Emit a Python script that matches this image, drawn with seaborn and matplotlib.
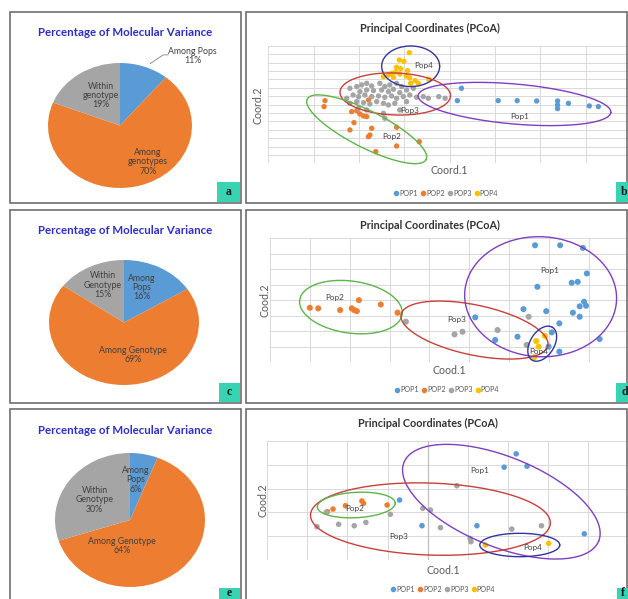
import numpy as np
import pandas as pd
import matplotlib
matplotlib.use("Agg")
import matplotlib.pyplot as plt
from matplotlib.patches import Rectangle
from matplotlib.lines import Line2D
import seaborn as sns

# ---------------- AMOVA (percentage of molecular variance) ----------------
amova_a = [11, 70, 19]
amova_c = [16, 69, 15]
amova_e = [6, 64, 30]
names_a = ["Among Pops", "Among\ngenotypes", "Within\ngenotype"]
names_c = ["Among\nPops", "Among Genotype", "Within\nGenotype"]
names_e = ["Among\nPops", "Among Genotype", "Within\nGenotype"]

# ---------------- PCoA coordinates, set b ----------------
b_pop1_x = [0.26, 0.17, 1.07, 1.49, 1.92, 2.38, 2.38, 2.38, 2.62, 3.08, 3.28]
b_pop1_y = [1.93, 0.46, 0.46, 0.46, 0.42, 0.42, -0.06, -0.49, 0.14, -0.17, -0.25]
b_pop2_x = [-2.75, -2.77, -2.16, -2.05, -1.98, -1.90, -1.83, -2.11, -2.20, -1.72,
            -1.76, -1.79, -1.17, -1.17, -1.63, -0.67, -1.79]
b_pop2_y = [0.46, -0.25, -0.85, -0.73, -1.13, -1.37, -1.44, -2.16, -3.03, -2.83,
            -3.63, -3.83, -2.71, -4.94, -5.61, -4.42, 0.54]
b_pop3_x = [-2.20, -2.05, -1.94, -1.83, -1.72, -1.54, -1.43, -1.32, -1.17, -1.06,
            -1.98, -1.83, -1.68, -1.50, -1.35, -1.24, -1.10, -0.95, -0.80, -2.13,
            -2.01, -1.87, -1.72, -1.57, -1.43, -1.28, -1.17, -1.02, -0.88, -0.73,
            -2.27, -2.20, -2.05, -1.90, -1.76, -1.61, -1.46, -1.35, -1.21, -0.95,
            -2.01, -1.83, -1.46, -1.10, -1.43, -0.47, -0.24, -0.10, -0.58]
b_pop3_y = [1.93, 2.13, 2.33, 2.52, 2.21, 2.52, 2.13, 2.33, 2.52, 2.13,
            1.53, 1.73, 1.65, 1.73, 1.53, 1.81, 1.41, 1.73, 1.93, 1.13,
            0.94, 1.13, 0.94, 1.02, 0.86, 1.02, 0.74, 0.94, 1.13, 0.86,
            0.74, 0.14, 0.34, 0.22, 0.06, 0.34, 0.14, -0.06, 0.14, 0.34,
            -0.45, -0.65, -1.05, -0.65, -1.64, 0.74, 0.94, 0.74, 0.94]
b_pop4_x = [-0.89, -1.11, -1.01, -1.17, -1.08, -1.28, -1.19, -1.35, -1.10, -0.93,
            -0.96, -0.88, -0.76, -0.69, -0.86, -0.46, -1.24, -1.46]
b_pop4_y = [6.17, 5.30, 5.14, 4.43, 4.27, 3.71, 3.87, 3.52, 3.63, 4.03,
            3.40, 3.16, 2.84, 2.52, 2.52, 3.00, 3.24, 3.32]

# ---------------- PCoA coordinates, set d ----------------
d_pop1_x = [2.65, 3.28, 3.85, 3.95, 3.57, 3.72, 2.71, 3.88, 3.93, 3.77, 3.60,
            3.77, 2.93, 2.36, 3.26, 2.21, 1.65, 4.27, 3.26, 3.07, 2.99, 1.15]
d_pop1_y = [3.55, 3.55, 3.38, 1.73, 1.13, 1.19, 0.87, -0.09, -0.35, -0.39, -0.80,
            -1.06, -0.70, -0.57, -1.49, -2.35, -2.56, -2.50, -3.31, -2.07, -2.99, -1.10]
d_pop2_x = [-3.00, -2.79, -2.24, -1.95, -1.89, -1.82, -1.77, -1.22, -0.80]
d_pop2_y = [-0.48, -0.52, -0.63, -0.52, -0.63, -0.70, 0.01, -0.27, -0.80]
d_pop3_x = [-0.59, 0.63, 0.83, 1.71, 2.49, 2.44]
d_pop3_y = [-1.38, -2.20, -2.03, -1.92, -1.06, -2.88]
d_pop4_x = [2.68, 2.90, 2.63, 2.74]
d_pop4_y = [-2.63, -2.30, -3.68, -2.99]

# ---------------- PCoA coordinates, set f ----------------
f_pop1_x = [2.21, 1.91, 2.48, -0.70, -0.14, 1.23, 3.91]
f_pop1_y = [4.46, 3.90, 3.94, 2.52, 1.44, 1.44, 1.10]
f_pop2_x = [-2.50, -2.36, -2.05, -1.64, -1.60, -1.01]
f_pop2_y = [2.03, 2.14, 2.28, 2.48, 2.38, 2.31]
f_pop3_x = [-2.76, -2.53, -2.22, -1.83, -1.54, -0.93, -0.12, 0.07, 0.32, 0.73,
            1.06, 1.08, 2.10, 2.84]
f_pop3_y = [1.40, 2.00, 1.50, 1.44, 1.58, 1.92, 2.17, 2.10, 1.36, 3.12,
            0.91, 0.77, 1.30, 1.44]
f_pop4_x = [1.44, 3.02]
f_pop4_y = [0.63, 0.70]

pop_names = ["POP1", "POP2", "POP3", "POP4"]
pop_colors = ["#5B9BD5", "#ED7D31", "#A5A5A5", "#FFC000"]
slice_colors = ["#5B9BD5", "#ED7D31", "#A5A5A5"]

sns.set_theme(style="white")
plt.rcParams["font.family"] = ["Lato", "DejaVu Sans"]

W, H = 628, 599
fig = plt.figure(figsize=(W / 100, H / 100), dpi=100)
fig.patch.set_facecolor("white")


def fx(x):
    return x / W


def fy(y):
    return 1 - y / H


def px_axes(x0, y0, x1, y1):
    return fig.add_axes([fx(x0), fy(y1), (x1 - x0) / W, (y1 - y0) / H])


def frame(x0, y0, x1, y1):
    fig.add_artist(Rectangle((fx(x0), fy(y1)), (x1 - x0) / W, (y1 - y0) / H,
                             transform=fig.transFigure, fill=False,
                             ec="#6E6E6E", lw=1.2))


def tag(x0, y0, x1, y1, letter, tx, ty, ha="center"):
    fig.add_artist(Rectangle((fx(x0), fy(y1)), (x1 - x0) / W, (y1 - y0) / H,
                             transform=fig.transFigure, fc="#36D4B2", ec="none"))
    fig.text(fx(tx), fy(ty), letter, ha=ha, va="center", fontsize=8.5,
             fontweight="bold", family="Liberation Serif", color="#1a1a1a")


# panel frames
frame(10, 12, 241, 203)
frame(246, 12, 627, 203)
frame(10, 210, 241, 403)
frame(246, 210, 627, 403)
frame(10, 409, 241, 604)
frame(246, 409, 627, 604)


def amova_pie(box, values, names, spots, title_y, leader=None):
    ax = px_axes(*box)
    ax.pie(values, colors=slice_colors, startangle=90, counterclock=False,
           radius=1, wedgeprops=dict(linewidth=0))
    ax.set_aspect("auto")
    ax.set_xlim(-1, 1)
    ax.set_ylim(-1, 1)
    ax.axis("off")
    for name, val, (u, v) in zip(names, values, spots):
        ax.text(u, v, f"{name}\n{val}%", ha="center", va="center",
                fontsize=6.3, color="#404040", linespacing=1.05, clip_on=False)
    if leader is not None:
        ax.plot(leader[0], leader[1], color="#7F7F7F", lw=0.6, clip_on=False)
    fig.text(fx(125), fy(title_y), "Percentage of Molecular Variance",
             ha="center", va="center", fontsize=8.3, fontweight="bold",
             color="#2E2EC4")


amova_pie((48, 63, 192, 188), amova_a, names_a,
          [(1.01, 1.11), (0.39, -0.58), (-0.26, 0.48)], 33,
          leader=([0.42, 0.60, 0.67], [0.99, 1.13, 1.13]))
amova_pie((49, 260, 199, 385), amova_c, names_c,
          [(0.24, 0.56), (0.12, -0.52), (-0.28, 0.60)], 230)
amova_pie((55, 453, 205, 587), amova_e, names_e,
          [(0.07, 0.60), (-0.11, -0.39), (-0.47, 0.30)], 430)


def draw_ellipse(ax, cx, cy, a_px, b_px, angle_deg, color):
    """Outline of an ellipse whose axes/rotation are given in screen pixels."""
    t = np.linspace(0, 2 * np.pi, 240)
    th = np.deg2rad(angle_deg)
    u = a_px * np.cos(t) * np.cos(th) - b_px * np.sin(t) * np.sin(th)
    v = a_px * np.cos(t) * np.sin(th) + b_px * np.sin(t) * np.cos(th)
    pos = ax.get_position()
    x0, x1 = ax.get_xlim()
    y0, y1 = ax.get_ylim()
    sx = pos.width * W / (x1 - x0)
    sy = pos.height * H / (y1 - y0)
    ax.plot(cx + u / sx, cy + v / sy, color=color, lw=1.0, clip_on=False,
            zorder=5)


ELL = {"Pop1": "#7F3FBF", "Pop2": "#5DB54A", "Pop3": "#C8403A", "Pop4": "#34349E"}


def pcoa_panel(box, xlim, ylim, pops, ellipses, tags, xlabel, ylabel,
               title_xy, xlabel_xy, ylabel_xy, legend_xy, ms, zero_axis=False):
    ax = px_axes(*box)
    frames = []
    for name, (xs, ys) in zip(pop_names, pops):
        frames.append(pd.DataFrame({"x": xs, "y": ys, "pop": name}))
    df = pd.concat(frames, ignore_index=True)
    ax.set_xlim(*xlim)
    ax.set_ylim(*ylim)
    ax.set_xticks(np.arange(xlim[0], xlim[1] + 0.01, 1))
    ax.set_yticks(np.arange(ylim[0], ylim[1] + 0.01, 1))
    ax.grid(True, color="#D9D9D9", lw=0.7)
    ax.set_axisbelow(True)
    ax.tick_params(length=0, labelbottom=False, labelleft=False)
    for s in ax.spines.values():
        s.set_visible(False)
    if zero_axis:
        ax.axvline(0, color="#BFBFBF", lw=0.9, zorder=1)
    sns.scatterplot(data=df, x="x", y="y", hue="pop",
                    palette=dict(zip(pop_names, pop_colors)), s=ms,
                    linewidth=0, legend=False, ax=ax, zorder=3, clip_on=False)
    ax.set_xlabel("")
    ax.set_ylabel("")
    for (label, cx, cy, a, b, ang) in ellipses:
        draw_ellipse(ax, cx, cy, a, b, ang, ELL[label])
    for (label, tx, ty) in tags:
        ax.text(tx, ty, label, ha="center", va="center", fontsize=5.9,
                color="#404040", zorder=6)
    fig.text(fx(title_xy[0]), fy(title_xy[1]), "Principal Coordinates (PCoA)",
             ha="center", va="center", fontsize=7.8, fontweight="bold",
             color="#333333")
    fig.text(fx(xlabel_xy[0]), fy(xlabel_xy[1]), xlabel, ha="center",
             va="center", fontsize=7.6, color="#595959")
    fig.text(fx(ylabel_xy[0]), fy(ylabel_xy[1]), ylabel, ha="center",
             va="center", fontsize=7.6, color="#595959", rotation=90)
    handles = [Line2D([], [], marker="o", ls="", color=c, markersize=3)
               for c in pop_colors]
    leg = ax.legend(handles, pop_names, loc="center",
                    bbox_to_anchor=(fx(legend_xy[0]), fy(legend_xy[1])),
                    bbox_transform=fig.transFigure, ncol=4, frameon=False,
                    fontsize=5.2, handletextpad=0.05, columnspacing=0.4,
                    handlelength=0.7, borderpad=0)
    for t in leg.get_texts():
        t.set_color("#595959")
    return ax


pcoa_panel((268.3, 45.7, 631, 163.3), (-4, 4), (-7, 7),
           [(b_pop1_x, b_pop1_y), (b_pop2_x, b_pop2_y),
            (b_pop3_x, b_pop3_y), (b_pop4_x, b_pop4_y)],
           [("Pop4", -0.86, 4.55, 29, 20.3, 0),
            ("Pop3", -1.20, 1.25, 55.3, 21, -2),
            ("Pop1", 1.43, 0.06, 96.7, 20, -5),
            ("Pop2", -1.83, -2.95, 66.7, 18.3, -27)],
           [("Pop4", -0.58, 4.59), ("Pop3", -0.875, -0.77),
            ("Pop1", 1.55, -1.44), ("Pop2", -1.28, -3.83)],
           "Coord.1", "Coord.2", (430, 28), (449, 170), (258, 105),
           (446, 193), ms=15)

pcoa_panel((270, 238.3, 628.7, 362.3), (-4, 5), (-4, 4),
           [(d_pop1_x, d_pop1_y), (d_pop2_x, d_pop2_y),
            (d_pop3_x, d_pop3_y), (d_pop4_x, d_pop4_y)],
           [("Pop2", -1.97, -0.44, 51.7, 26, -8),
            ("Pop3", 1.13, -1.92, 75, 25, -12),
            ("Pop1", 2.79, 0.23, 76, 60, -3),
            ("Pop4", 2.83, -2.80, 19.3, 12, 58)],
           [("Pop2", -2.37, 0.16), ("Pop3", 0.69, -1.27),
            ("Pop1", 3.03, 1.94), ("Pop4", 2.74, -3.31)],
           "Cood.1", "Cood.2", (430, 225), (449, 370), (265, 300),
           (447, 390), ms=19)

pcoa_panel((267.3, 441, 628, 560), (-4, 5), (0, 5),
           [(f_pop1_x, f_pop1_y), (f_pop2_x, f_pop2_y),
            (f_pop3_x, f_pop3_y), (f_pop4_x, f_pop4_y)],
           [("Pop1", 1.84, 2.45, 105, 45, -22),
            ("Pop3", 0.07, 1.72, 120, 36, -2),
            ("Pop2", -1.78, 2.31, 39, 12.7, 3),
            ("Pop4", 2.30, 0.63, 40, 11.7, 0)],
           [("Pop2", -1.81, 2.17), ("Pop3", -0.72, 0.98),
            ("Pop1", 1.31, 3.75), ("Pop4", 2.63, 0.52)],
           "Cood.1", "Cood.2", (428, 423), (443, 570), (263, 500),
           (443, 589), ms=16, zero_axis=True)

# panel letters
tag(217, 182, 240, 202, "a", 228.5, 192)
tag(616, 182, 640, 202, "b", 621, 192, ha="left")
tag(219, 383, 240, 402, "c", 229.5, 392)
tag(616, 383, 640, 402, "d", 621, 392, ha="left")
tag(219, 588, 240, 604, "e", 229.5, 592.5)
tag(617, 588, 640, 604, "f", 621, 592.5, ha="left")

fig.savefig("out.png", dpi=100, facecolor="white")
